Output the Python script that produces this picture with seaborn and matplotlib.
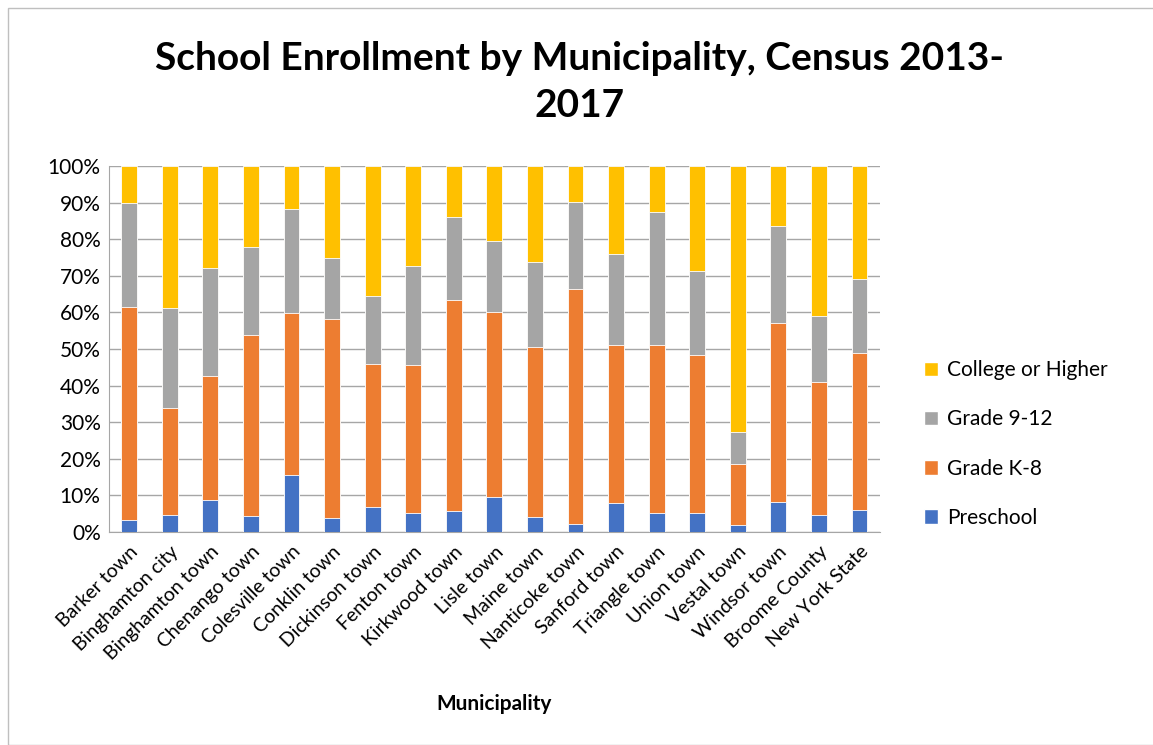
import numpy as np
import pandas as pd
import matplotlib
matplotlib.use("Agg")
import matplotlib.pyplot as plt
import seaborn as sns
from matplotlib.patches import Rectangle, Patch
from matplotlib.ticker import PercentFormatter

municipalities = ["Barker town", "Binghamton city", "Binghamton town", "Chenango town",
                  "Colesville town", "Conklin town", "Dickinson town", "Fenton town",
                  "Kirkwood town", "Lisle town", "Maine town", "Nanticoke town",
                  "Sanford town", "Triangle town", "Union town", "Vestal town",
                  "Windsor town", "Broome County", "New York State"]

# shares in percent
preschool = [3.3, 4.5, 8.7, 4.4, 15.7, 3.9, 6.7, 5.2, 5.6, 9.5, 4.2, 2.3, 8.0, 5.3, 5.2, 1.8, 8.3, 4.7, 6.1]
grade_k8 = [58.2, 29.5, 34.0, 49.4, 44.1, 54.3, 39.3, 40.5, 57.8, 50.6, 46.4, 64.1, 43.0, 45.9, 43.2, 16.8, 48.9, 36.2, 42.7]
grade_912 = [28.3, 27.2, 29.5, 24.0, 28.5, 16.8, 18.5, 26.9, 22.7, 19.4, 23.2, 23.8, 25.1, 36.3, 23.0, 8.7, 26.5, 18.1, 20.3]
college = [10.2, 38.8, 27.8, 22.2, 11.7, 25.0, 35.5, 27.4, 13.9, 20.5, 26.2, 9.8, 23.9, 12.5, 28.6, 72.7, 16.3, 41.0, 30.9]

series = ["Preschool", "Grade K-8", "Grade 9-12", "College or Higher"]
colors = ["#4472C4", "#ED7D31", "#A5A5A5", "#FFC000"]

df = pd.DataFrame({"Municipality": municipalities, "Preschool": preschool,
                   "Grade K-8": grade_k8, "Grade 9-12": grade_912,
                   "College or Higher": college})
cum = df[series].cumsum(axis=1)
cum = cum.div(cum["College or Higher"], axis=0) * 100

sns.set_style("white")
plt.rcParams["font.family"] = ["Lato", "DejaVu Sans"]
plt.rcParams["text.color"] = "black"
plt.rcParams["xtick.color"] = "black"
plt.rcParams["ytick.color"] = "black"
plt.rcParams["axes.labelcolor"] = "black"

fig = plt.figure(figsize=(11.53, 7.45), dpi=100)
ax = fig.add_axes([0.0945, 0.286, 0.6685, 0.491])

# draw cumulative bars from the top series down so they stack
for name, col in reversed(list(zip(series, colors))):
    sns.barplot(x=df["Municipality"], y=cum[name], color=col, width=0.39,
                ax=ax, edgecolor="white", linewidth=0.6, saturation=1, zorder=3)

ax.set_ylim(0, 100)
ax.set_xlim(-0.5, len(municipalities) - 0.5)
ax.set_yticks(np.arange(0, 101, 10))
ax.yaxis.set_major_formatter(PercentFormatter(decimals=0))
ax.grid(axis="y", color="#a6a6a6", linewidth=1, zorder=0)
ax.set_axisbelow(True)
for s in ["top", "right"]:
    ax.spines[s].set_visible(False)
ax.spines["left"].set_color("#a6a6a6")
ax.spines["bottom"].set_color("#a6a6a6")
ax.tick_params(axis="y", labelsize=15, length=0, pad=6)
ax.set_xticks(np.arange(len(municipalities)))
ax.set_xticklabels(municipalities, rotation=45, ha="right", rotation_mode="anchor", fontsize=14)
ax.tick_params(axis="x", length=0, pad=8)
# Excel-style ticks between categories
ax.set_xticks(np.arange(-0.5, len(municipalities), 1), minor=True)
ax.tick_params(axis="x", which="minor", length=6, color="#a6a6a6", direction="out")
ax.set_ylabel("")
ax.set_xlabel("Municipality", fontsize=15, fontweight="bold", labelpad=22)

fig.suptitle("School Enrollment by Municipality, Census 2013-\n2017", fontsize=28,
             fontweight="bold", x=0.503, y=0.945, linespacing=1.4)

handles = [Patch(facecolor=c, label=n) for n, c in zip(series, colors)][::-1]
fig.legend(handles=handles, loc="center left", bbox_to_anchor=(0.785, 0.404),
           frameon=False, fontsize=15, handlelength=0.7, handleheight=0.7,
           labelspacing=1.4, handletextpad=0.4)

fig.patches.append(Rectangle((8 / 1153, 0), 1.2, (745 - 8) / 745, transform=fig.transFigure,
                             fill=False, edgecolor="#bfbfbf", linewidth=1))

fig.savefig("out.png", dpi=100)
